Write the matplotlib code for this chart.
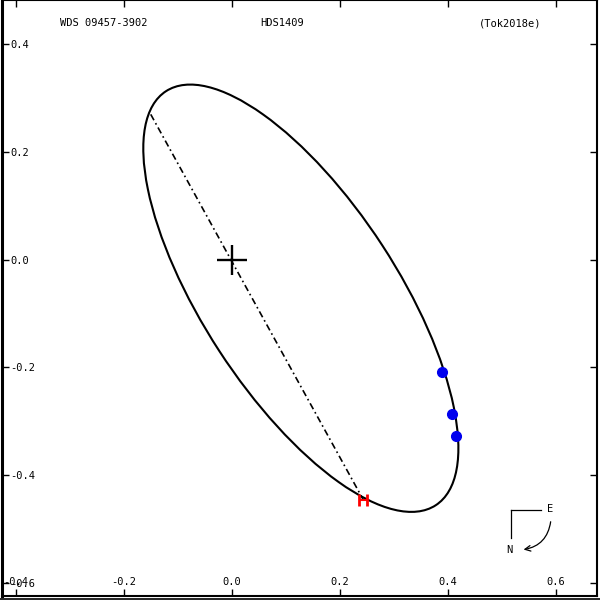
import matplotlib
matplotlib.use('Agg')
import matplotlib.pyplot as plt
from matplotlib.patches import Ellipse

plt.rcParams['font.family'] = 'DejaVu Sans Mono'
plt.rcParams['axes.unicode_minus'] = False

# orbit ellipse (arcsec): centre, full axes, tilt
orbit_center = (0.128, -0.0715)
orbit_width, orbit_height, orbit_angle = 0.917, 0.360, -57.0

# line of nodes end points
node_x = [-0.150, 0.2435]
node_y = [0.270, -0.4455]

# measurements
obs_x = [0.390, 0.408, 0.416]
obs_y = [-0.208, -0.286, -0.327]
red_x, red_y = [0.2435], [-0.4465]

xticks = [-0.4, -0.2, 0.0, 0.2, 0.4, 0.6]
yticks = [-0.6, -0.4, -0.2, 0.0, 0.2, 0.4]

fig = plt.figure(figsize=(6, 6), dpi=100)
ax = fig.add_axes([0.0033, 0.0067, 0.9917, 0.9933])
ax.set_xlim(-0.4255, 0.6765)
ax.set_ylim(-0.6245, 0.4824)

ell = Ellipse(orbit_center, orbit_width, orbit_height, angle=orbit_angle,
              fill=False, ec='black', lw=1.5)
ax.add_patch(ell)
ax.plot(node_x, node_y, color='black', lw=1.2, dashes=(4, 2, 1, 2))
ax.plot([0], [0], marker='+', ms=21, mew=1.7, color='black')
ax.plot(obs_x, obs_y, 'o', color='#0000ee', ms=7, zorder=5)
ax.errorbar(red_x, red_y, xerr=0.0075, fmt='none', ecolor='red',
            elinewidth=1.5, capsize=4.5, capthick=2, zorder=6)

ax.set_xticks(xticks)
ax.set_yticks(yticks)
ax.tick_params(direction='in', length=5, width=1, labelsize=7.5,
               top=True, right=True)
ax.tick_params(axis='x', pad=-14)
ax.tick_params(axis='y', pad=-6)
for lab in ax.get_yticklabels():
    lab.set_horizontalalignment('left')

ax.spines['left'].set_linewidth(2.2)
ax.spines['bottom'].set_linewidth(1.5)
ax.spines['right'].set_linewidth(1.5)
ax.spines['top'].set_linewidth(0.8)
fig.add_artist(plt.Line2D([0, 1], [0.0015, 0.0015], color='black', lw=1.2))

ax.text(0.0975, 0.961, 'WDS 09457-3902', transform=ax.transAxes,
        fontsize=7.5, ha='left', va='center')
ax.text(0.47, 0.961, 'HDS1409', transform=ax.transAxes,
        fontsize=7.5, ha='center', va='center')
ax.text(0.906, 0.961, '(Tok2018e)', transform=ax.transAxes,
        fontsize=7.5, ha='right', va='center')

# orientation marker
ax.plot([0.8555, 0.9059], [0.1443, 0.1443], color='black', lw=0.9,
        transform=ax.transAxes)
ax.plot([0.8555, 0.8555], [0.1443, 0.0973], color='black', lw=0.9,
        transform=ax.transAxes)
ax.text(0.921, 0.146, 'E', transform=ax.transAxes, fontsize=7.5,
        ha='center', va='center')
ax.text(0.852, 0.0772, 'N', transform=ax.transAxes, fontsize=7.5,
        ha='center', va='center')
ax.annotate('', xy=(0.872, 0.0772), xytext=(0.9227, 0.1292),
            xycoords='axes fraction', textcoords='axes fraction',
            arrowprops=dict(arrowstyle='->', lw=0.9, color='black',
                            connectionstyle='arc3,rad=-0.4'))

fig.savefig('out.png', dpi=100)
